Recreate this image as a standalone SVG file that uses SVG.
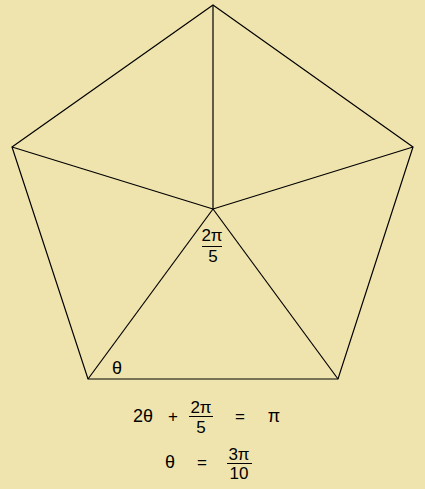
<svg xmlns="http://www.w3.org/2000/svg" width="425" height="489" viewBox="0 0 425 489">
<style>
.l{stroke:#000;stroke-width:1.2;fill:none}
.b{stroke:#000;stroke-width:1;fill:none}
.t{font-family:"Liberation Sans","Open Sans",sans-serif;font-size:17px;fill:#000;text-anchor:middle}
.g{font-size:18px}
</style>
<rect width="425" height="489" fill="#F0E4AE"/>
<g id="connectors">
<polygon class="l" points="213,5 413,147 338,379 88,379 12,147"/>
<line class="l" x1="213" y1="209" x2="213" y2="5"/>
<line class="l" x1="213" y1="209" x2="413" y2="147"/>
<line class="l" x1="213" y1="209" x2="338" y2="379"/>
<line class="l" x1="213" y1="209" x2="88" y2="379"/>
<line class="l" x1="213" y1="209" x2="12" y2="147"/>
</g>
<g id="center-label">
<text class="t" x="212" y="241">2π</text>
<line class="b" x1="202" y1="246.5" x2="222" y2="246.5"/>
<text class="t" x="213" y="262">5</text>
</g>
<g id="theta-label">
<text class="t g" x="117" y="374">θ</text>
</g>
<g id="equation1">
<text class="t g" x="143" y="422">2θ</text>
<text class="t" x="173" y="422">+</text>
<text class="t" x="201" y="413">2π</text>
<line class="b" x1="189" y1="416.5" x2="213" y2="416.5"/>
<text class="t" x="201" y="433">5</text>
<text class="t" x="240" y="422">=</text>
<text class="t g" x="274" y="422">π</text>
</g>
<g id="equation2">
<text class="t g" x="170" y="468">θ</text>
<text class="t" x="202" y="468">=</text>
<text class="t" x="239" y="460">3π</text>
<line class="b" x1="227" y1="463.5" x2="252" y2="463.5"/>
<text class="t" x="239" y="479">10</text>
</g>
</svg>
